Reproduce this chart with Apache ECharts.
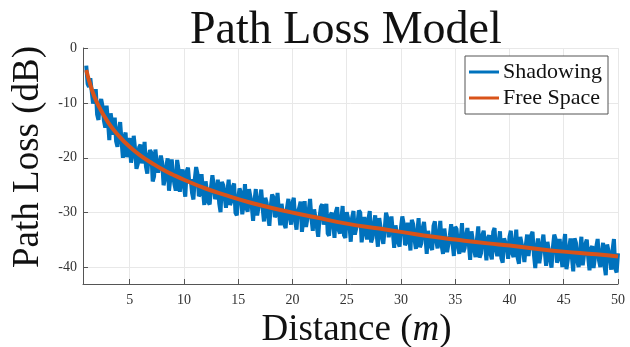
<!DOCTYPE html>
<html>
<head>
<meta charset="utf-8">
<script src="https://cdn.jsdelivr.net/npm/echarts@6/dist/echarts.min.js"></script>
<style>
  html, body { margin: 0; padding: 0; background: #fff; }
  #chart { width: 630px; height: 347px; }
</style>
</head>
<body>
<div id="chart"></div>
<script>
  /** Data */
  var xTicks = [5, 10, 15, 20, 25, 30, 35, 40, 45, 50];
  var yTicks = [0, -10, -20, -30, -40];

  // free space curve, sampled at these distances
  var freeDist = [1, 1.5, 2, 3, 4, 5, 6, 7, 8, 9, 10, 12, 14, 16, 18, 20, 22, 25,
    28, 30, 33, 35, 38, 40, 43, 45, 48, 50];
  var freeLoss = [-4.0, -7.5, -10.0, -13.5, -16.0, -18.0, -19.6, -20.9, -22.1, -23.1,
    -24.0, -25.6, -26.9, -28.1, -29.1, -30.0, -30.8, -32.0, -32.9, -33.5, -34.4,
    -34.9, -35.6, -36.0, -36.7, -37.1, -37.6, -38.0];

  // shadowing samples, one every 0.125 m from 1 m to 50 m (8 per row = 1 m)
  var shadowStart = 1;
  var shadowStep = 0.125;
  var shadowLoss = [
    -3.2, -6.5, -7.1, -5.5, -5.6, -10.1, -9.3, -7.5,
    -12.1, -13.1, -10.4, -9.3, -10.6, -13.2, -14.5, -10.5,
    -13.3, -16.8, -11.9, -13.6, -15.8, -12.7, -17.0, -18.0,
    -14.9, -13.5, -16.9, -20.0, -16.4, -15.4, -19.9, -17.4,
    -16.4, -20.9, -19.2, -16.0, -18.4, -22.0, -21.1, -18.1,
    -17.6, -21.0, -20.0, -17.1, -21.6, -22.9, -19.7, -18.6,
    -19.1, -24.3, -23.4, -18.5, -21.2, -22.7, -22.4, -19.6,
    -20.9, -25.0, -23.9, -21.6, -20.1, -26.0, -23.8, -20.3,
    -23.0, -24.8, -26.0, -20.4, -22.1, -26.2, -23.3, -22.1,
    -25.1, -27.1, -22.5, -21.8, -24.6, -23.9, -26.4, -27.6,
    -23.9, -21.7, -22.9, -27.0, -26.6, -23.0, -25.9, -28.6,
    -24.3, -24.3, -28.1, -28.5, -25.3, -23.2, -25.1, -27.5,
    -27.0, -24.0, -28.3, -29.9, -24.4, -25.0, -27.1, -29.1,
    -26.1, -24.0, -28.6, -27.9, -25.3, -24.7, -30.0, -30.5,
    -27.3, -25.6, -26.3, -30.3, -28.7, -24.8, -29.1, -29.8,
    -25.7, -27.1, -28.8, -31.5, -27.8, -25.7, -30.5, -30.7,
    -27.5, -25.8, -29.1, -31.6, -27.3, -28.2, -30.7, -32.4,
    -28.8, -26.7, -27.2, -30.8, -30.4, -26.4, -29.7, -32.3,
    -28.4, -28.1, -32.1, -32.8, -29.1, -27.5, -30.7, -32.2,
    -28.2, -27.3, -31.4, -33.1, -29.8, -29.1, -28.0, -33.5,
    -31.3, -27.9, -32.6, -32.3, -29.6, -27.5, -31.0, -33.3,
    -29.4, -29.1, -32.6, -34.4, -30.8, -28.9, -28.5, -32.2,
    -32.2, -28.4, -33.8, -34.2, -30.5, -30.0, -32.0, -34.6,
    -29.9, -29.0, -33.1, -33.8, -31.2, -28.8, -34.1, -34.6,
    -29.9, -31.0, -32.2, -35.3, -30.9, -29.7, -34.0, -33.7,
    -31.8, -29.6, -30.0, -35.4, -33.6, -30.8, -32.9, -34.9,
    -31.2, -29.7, -35.4, -34.6, -32.1, -30.5, -33.8, -36.2,
    -31.0, -30.9, -34.5, -35.7, -33.0, -30.0, -31.0, -34.5,
    -34.5, -30.7, -33.6, -36.4, -32.3, -32.1, -35.5, -36.2,
    -32.7, -30.7, -32.0, -35.9, -35.4, -31.8, -34.4, -36.9,
    -31.3, -32.1, -34.9, -36.6, -33.7, -31.0, -36.3, -35.6,
    -32.8, -31.7, -34.3, -37.5, -33.3, -33.2, -36.2, -36.8,
    -32.4, -31.6, -35.1, -36.5, -34.1, -31.5, -36.0, -37.5,
    -32.9, -33.2, -37.2, -37.0, -34.2, -32.1, -35.6, -37.9,
    -32.6, -33.0, -36.1, -37.5, -34.8, -31.9, -37.2, -36.4,
    -34.1, -32.8, -35.6, -38.6, -33.4, -33.3, -36.9, -38.1,
    -34.9, -32.5, -38.2, -37.4, -34.1, -33.3, -36.0, -38.7,
    -34.7, -34.1, -37.5, -38.5, -33.5, -32.8, -36.8, -37.9,
    -35.5, -33.4, -38.3, -39.1, -34.7, -34.7, -36.2, -38.4,
    -34.4, -33.3, -37.4, -38.1, -35.4, -33.1, -38.2, -39.3,
    -34.4, -34.6, -37.0, -39.0, -36.0, -34.0, -37.9, -38.1,
    -34.1, -33.5, -37.6, -40.1, -36.5, -34.7, -39.2, -39.0,
    -35.6, -34.0, -37.0, -39.7, -35.3, -35.6, -38.7, -40.0,
    -36.3, -34.0, -34.8, -39.1, -38.4, -34.8, -37.5, -39.9,
    -35.8, -33.9, -40.3, -38.6, -36.4, -34.7, -38.1, -40.7,
    -34.7, -35.5, -38.9, -39.9, -37.1, -34.4, -39.6, -39.4,
    -35.7, -34.9, -38.1, -40.5, -36.6, -36.1, -40.1, -40.3,
    -36.2, -34.8, -38.7, -39.9, -37.4, -35.5, -39.6, -41.4,
    -35.8, -35.9, -38.2, -40.4, -36.8, -34.8, -40.2, -40.9,
    -37.4
  ];

  var serif = '"Liberation Serif", "DejaVu Serif", serif';

  var shadowData = shadowLoss.map(function(v, i) {
    return [shadowStart + i * shadowStep, v];
  });
  var freeData = freeDist.map(function(d, i) {
    return [d, freeLoss[i]];
  });

  var option = {
    animation: false,
    backgroundColor: '#fff',
    color: ['#0072BD', '#D95319'],
    title: {
      text: 'Path Loss Model',
      left: 190,
      top: 8,
      padding: 0,
      textStyle: {
        fontFamily: serif,
        fontWeight: 'normal',
        fontSize: 46,
        color: '#111'
      }
    },
    legend: {
      orient: 'vertical',
      left: 465,
      top: 56,
      itemWidth: 30,
      itemHeight: 3,
      itemGap: 4,
      padding: [5, 6, 5, 4],
      backgroundColor: '#fff',
      borderColor: '#555',
      borderWidth: 1,
      borderRadius: 0,
      textStyle: {
        fontFamily: serif,
        fontSize: 22,
        color: '#111',
        padding: [0, 0, 0, -1]
      },
      data: [
        { name: 'Shadowing', icon: 'rect' },
        { name: 'Free Space', icon: 'rect' }
      ]
    },
    grid: {
      left: 83,
      right: 12,
      top: 48,
      bottom: 63,
      outerBoundsMode: 'none'
    },
    xAxis: {
      type: 'value',
      min: 0.7,
      max: 50,
      name: 'Distance ({i|m})',
      nameLocation: 'middle',
      nameGap: 22,
      nameTextStyle: {
        fontFamily: serif,
        fontSize: 37,
        color: '#111',
        padding: [0, 0, 0, 12],
        rich: {
          i: { fontFamily: serif, fontSize: 37, fontStyle: 'italic', color: '#111' }
        }
      },
      axisLine: { onZero: false, lineStyle: { color: '#555', width: 1 } },
      axisTick: {
        inside: true,
        length: 5,
        customValues: xTicks,
        lineStyle: { color: '#555' }
      },
      axisLabel: {
        customValues: xTicks,
        fontFamily: serif,
        fontSize: 14,
        color: '#333',
        margin: 9
      },
      splitLine: { show: true, lineStyle: { color: '#e8e8e8', width: 1 } }
    },
    yAxis: {
      type: 'value',
      min: -43,
      max: 0,
      name: 'Path Loss (dB)',
      nameLocation: 'middle',
      nameGap: 36,
      nameTextStyle: {
        fontFamily: serif,
        fontSize: 37,
        color: '#111',
        padding: [0, 0, 0, 18]
      },
      axisLine: { show: true, onZero: false, lineStyle: { color: '#555', width: 1 } },
      axisTick: {
        show: true,
        inside: true,
        length: 5,
        customValues: yTicks,
        lineStyle: { color: '#555' }
      },
      axisLabel: {
        customValues: yTicks,
        fontFamily: serif,
        fontSize: 14,
        color: '#333',
        margin: 6
      },
      splitLine: { show: true, lineStyle: { color: '#e8e8e8', width: 1 } }
    },
    series: [{
      name: 'Shadowing',
      type: 'line',
      data: shadowData,
      showSymbol: false,
      symbol: 'none',
      lineStyle: { width: 4, color: '#0072BD', join: 'miter', miterLimit: 2 },
      z: 2
    }, {
      name: 'Free Space',
      type: 'line',
      data: freeData,
      smooth: true,
      showSymbol: false,
      symbol: 'none',
      lineStyle: { width: 4, color: '#D95319' },
      z: 3
    }]
  };

  echarts.init(document.getElementById('chart')).setOption(option);
</script>
</body>
</html>
